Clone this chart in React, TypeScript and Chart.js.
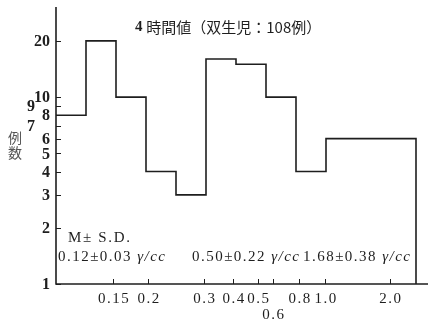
import { useEffect, useRef } from "react";
import { Chart, registerables } from "chart.js";

Chart.register(...registerables);

// Histogram bins on the concentration axis (axis units: one unit per narrow class)
const binEdges = [0, 1, 2, 3, 4, 5, 6, 7, 8, 9, 12];
const caseCounts = [8, 20, 10, 4, 3, 16, 15, 10, 4, 6];

// Concentration ticks (γ/cc) and where they fall on the class axis
const xTickPositions = [1.9, 3.07, 4.93, 5.9, 6.73, 7.23, 8.1, 8.97, 11.13];
const xTickLabels = ["0.15", "0.2", "0.3", "0.4", "0.5", "0.6", "0.8", "1.0", "2.0"];
const xTickRows = [0, 0, 0, 0, 0, 1, 0, 0, 0];

// Case-count axis (logarithmic)
const yTickValues = [1, 2, 3, 4, 5, 6, 7, 8, 9, 10, 20];
const yTickLabels = ["1", "2", "3", "4", "5", "6", "7", "8", "9", "10", "20"];
const yStaggered = [false, false, false, false, false, false, true, false, true, false, false];

const titleNumber = "4";
const titleText = "時間値（双生児：108例）";
const yAxisTitle = ["例", "数"];
const statHeader = "M± S.D.";
const statMeans = ["0.12±0.03", "0.50±0.22", "1.68±0.38"];
const statUnit = "γ/cc";

const INK = "#1e1e1e";
const SERIF = "'Liberation Serif', 'DejaVu Serif', serif";
const CJK = "'Noto Sans CJK JP', 'Noto Sans CJK SC', sans-serif";

type Run = { text: string; font: string };

// Draws consecutive text runs with a shared letter spacing chosen so the
// whole line spans the requested width.
function drawFitted(ctx: CanvasRenderingContext2D, runs: Run[], x: number, y: number, width: number) {
  (ctx as any).letterSpacing = "0px";
  let natural = 0;
  let chars = 0;
  for (const r of runs) {
    ctx.font = r.font;
    natural += ctx.measureText(r.text).width;
    chars += [...r.text].length;
  }
  const spacing = Math.max(0, (width - natural) / Math.max(1, chars - 1));
  let cx = x;
  for (const r of runs) {
    ctx.font = r.font;
    for (const ch of [...r.text]) {
      ctx.fillText(ch, cx, y);
      cx += ctx.measureText(ch).width + spacing;
    }
  }
}

const paperPlugin = {
  id: "paper",
  afterDraw(chart: any) {
    const { ctx, chartArea: a, scales } = chart;
    const xs = scales.x;
    const ys = scales.y;
    ctx.save();
    ctx.strokeStyle = INK;
    ctx.fillStyle = INK;

    // axes
    ctx.lineWidth = 1.6;
    ctx.beginPath();
    ctx.moveTo(a.left, a.top - 1);
    ctx.lineTo(a.left, a.bottom);
    ctx.lineTo(a.right, a.bottom);
    ctx.stroke();

    // inward tick marks
    ctx.lineWidth = 1;
    ctx.beginPath();
    yTickValues.forEach((v) => {
      const py = Math.round(ys.getPixelForValue(v)) + 0.5;
      ctx.moveTo(a.left, py);
      ctx.lineTo(a.left + 5, py);
    });
    xTickPositions.forEach((v) => {
      const px = Math.round(xs.getPixelForValue(v)) + 0.5;
      ctx.moveTo(px, a.bottom);
      ctx.lineTo(px, a.bottom - 5);
    });
    ctx.stroke();

    // y tick labels
    ctx.textBaseline = "middle";
    ctx.textAlign = "right";
    ctx.font = `bold 16px ${SERIF}`;
    yTickValues.forEach((v, i) => {
      const py = ys.getPixelForValue(v) + 1;
      const rx = yStaggered[i] ? a.left - 21 : a.left - 6;
      ctx.fillText(yTickLabels[i], rx, py);
    });

    // x tick labels
    ctx.textAlign = "center";
    ctx.font = `15px ${SERIF}`;
    (ctx as any).letterSpacing = "1.5px";
    xTickPositions.forEach((v, i) => {
      const px = xs.getPixelForValue(v) + 1;
      ctx.fillText(xTickLabels[i], px, a.bottom + 15 + xTickRows[i] * 16);
    });
    (ctx as any).letterSpacing = "0px";

    // title
    ctx.textAlign = "left";
    drawFitted(
      ctx,
      [
        { text: titleNumber + " ", font: `bold 15px ${SERIF}` },
        { text: titleText, font: `15px ${CJK}` },
      ],
      135,
      27,
      178
    );

    // vertical axis caption
    ctx.fillStyle = "#555";
    ctx.font = `14px ${CJK}`;
    ctx.textAlign = "center";
    yAxisTitle.forEach((ch, i) => ctx.fillText(ch, 15, 138 + i * 15));

    // mean ± S.D. annotations
    ctx.fillStyle = INK;
    ctx.textAlign = "left";
    drawFitted(ctx, [{ text: statHeader, font: `15px ${SERIF}` }], 68, 238, 62);
    const statX = [58, 192, 303];
    statMeans.forEach((m, i) => {
      drawFitted(
        ctx,
        [
          { text: m + " ", font: `15px ${SERIF}` },
          { text: statUnit, font: `italic 15px ${SERIF}` },
        ],
        statX[i],
        257,
        107
      );
    });

    ctx.restore();
  },
};

export default function App() {
  const ref = useRef<HTMLCanvasElement>(null);

  useEffect(() => {
    const points = binEdges.slice(0, -1).map((x, i) => ({ x, y: caseCounts[i] }));
    const lastEdge = binEdges[binEdges.length - 1];
    points.push({ x: lastEdge, y: caseCounts[caseCounts.length - 1] });
    points.push({ x: lastEdge, y: yTickValues[0] });

    const chart = new Chart(ref.current as HTMLCanvasElement, {
      type: "line",
      data: {
        datasets: [
          {
            data: points,
            stepped: true,
            borderColor: INK,
            borderWidth: 1.6,
            pointRadius: 0,
            fill: false,
          },
        ],
      },
      options: {
        animation: false,
        responsive: false,
        devicePixelRatio: 1,
        layout: { padding: { left: 56, right: 0, top: 8, bottom: 36 } },
        scales: {
          x: { type: "linear", min: 0, max: 12.4, display: false },
          y: { type: "logarithmic", min: 1, max: 30, display: false },
        },
        plugins: {
          legend: { display: false },
          tooltip: { enabled: false },
        },
      },
      plugins: [paperPlugin],
    });
    return () => chart.destroy();
  }, []);

  return (
    <div style={{ position: "absolute", left: 0, top: 0, width: 428, height: 320, background: "#fff" }}>
      <canvas ref={ref} width={428} height={320} style={{ display: "block" }} />
    </div>
  );
}
